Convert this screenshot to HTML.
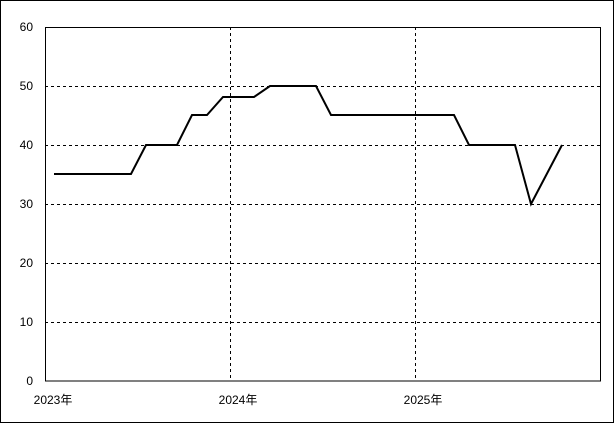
<!DOCTYPE html><html><head><style>body{margin:0;background:#fff}</style></head><body>
<svg width="615" height="424" xmlns="http://www.w3.org/2000/svg" font-family="Liberation Sans, Noto Sans CJK JP, sans-serif" font-size="12">
<rect x="0.5" y="0.5" width="613" height="422" fill="#fff" stroke="#000"/>
<g stroke="#000" stroke-dasharray="3,3" stroke-width="1">
<line x1="45" x2="601" y1="86.5" y2="86.5"/><line x1="45" x2="601" y1="145.5" y2="145.5"/>
<line x1="45" x2="601" y1="204.5" y2="204.5"/><line x1="45" x2="601" y1="263.5" y2="263.5"/>
<line x1="45" x2="601" y1="322.5" y2="322.5"/>
<line x1="230.5" x2="230.5" y1="27" y2="381"/><line x1="415.5" x2="415.5" y1="27" y2="381"/>
</g>
<rect x="45.5" y="27.5" width="555" height="353.5" fill="none" stroke="#000"/>
<g text-anchor="end">
<text x="33" y="385">0</text><text x="33" y="326">10</text><text x="33" y="267">20</text>
<text x="33" y="208">30</text><text x="33" y="149">40</text><text x="33" y="90">50</text><text x="33" y="31">60</text>
</g>
<g text-anchor="middle"><text x="53" y="404">2023年</text><text x="238" y="404">2024年</text><text x="423" y="404">2025年</text></g>
<polyline fill="none" stroke="#000" stroke-width="2" points="54,174 131,174 146,145 177,145 192,115 207,115 223,97 254,97 270,86 316,86 331,115 454,115 469,145 515,145 531,204 562,145"/>
</svg></body></html>
